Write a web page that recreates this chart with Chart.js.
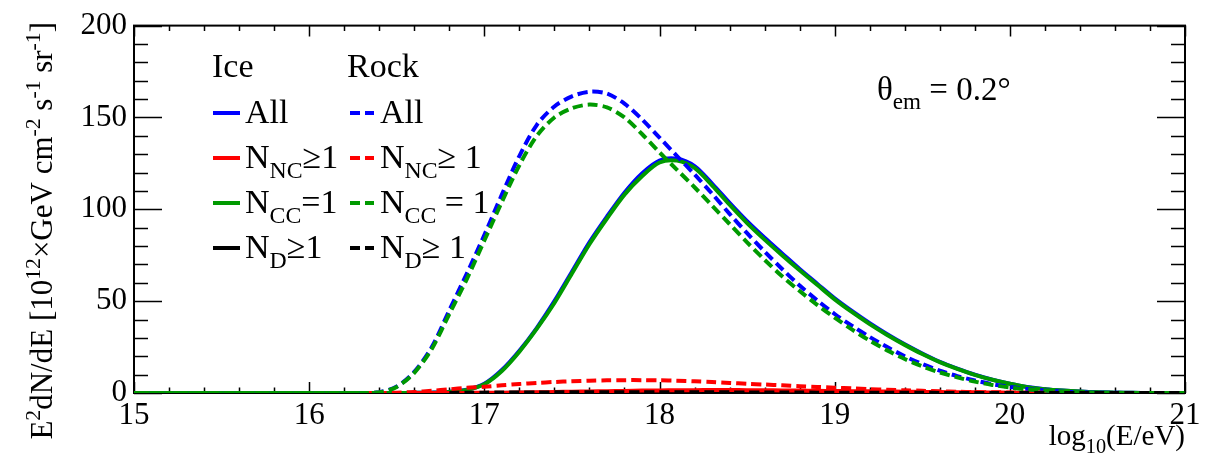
<!DOCTYPE html>
<html><head><meta charset="utf-8">
<script src="https://cdn.jsdelivr.net/npm/chart.js@4.4.1/dist/chart.umd.min.js"></script>
<style>html,body{margin:0;padding:0;background:#fff;overflow:hidden;font-family:"Liberation Serif","Times New Roman",Times,serif}</style>
</head><body>
<canvas id="c" width="1225" height="463"></canvas>
<script>
// ---- data ----
const logE = [15.0,15.1,15.2,15.3,15.4,15.5,15.6,15.7,15.8,15.9,
              16.0,16.1,16.2,16.3,16.4,16.5,16.6,16.7,16.8,16.9,
              17.0,17.1,17.2,17.3,17.4,17.5,17.6,17.7,17.8,17.9,
              18.0,18.1,18.2,18.3,18.4,18.5,18.6,18.7,18.8,18.9,
              19.0,19.1,19.2,19.3,19.4,19.5,19.6,19.7,19.8,19.9,
              20.0,20.1,20.2,20.3,20.4,20.5,20.6,20.7,20.8,20.9,21.0];

const iceAll = [0,0,0,0,0,0,0,0,0,0, 0,0,0,0,0,0,0.1,0.2,0.6,1.8,
  5,12.5,23,35.5,50,66,82,96,109,119.5,
  126.5,127.5,123.5,114,103.5,93.5,84.5,76,67.5,59.5,
  51.5,44.5,38,32,26.5,21.5,17,13.3,10,7.3,
  5.1,3.3,2.1,1.3,0.75,0.4,0.2,0.1,0,0,0];
const iceNC = [null,null,null,null,null,null,null,null,null,null, null,null,null,null,null,null,0,0,0,0.05,
  0.1,0.15,0.25,0.4,0.55,0.7,0.85,1.0,1.15,1.3,
  1.4,1.5,1.55,1.6,1.6,1.55,1.5,1.4,1.3,1.2,
  1.1,1.0,0.9,0.8,0.7,0.6,0.5,0.4,0.35,0.3,
  0.2,0.15,0.1,0.05,0,0,0,0,0,0,0];
const iceCC = [0,0,0,0,0,0,0,0,0,0, 0,0,0,0,0,0,0.1,0.2,0.6,1.7,
  4.8,12,22.5,35,49,65,81,95,108,118,
  125.5,126.5,122.5,113,102.5,92.5,83.5,75,66.8,58.9,
  51,44,37.5,31.6,26.2,21.2,16.8,13.1,9.9,7.2,
  5,3.2,2.1,1.3,0.75,0.4,0.2,0.1,0,0,0];
const iceD = [null,null,null,null,null,null,null,null,null,null, null,null,null,null,null,null,null,0,0,0,
  0,0.05,0.1,0.1,0.15,0.15,0.2,0.2,0.2,0.2,
  0.2,0.2,0.2,0.2,0.2,0.15,0.15,0.15,0.1,0.1,
  0.1,0.1,0.05,0.05,0.05,0.05,0,0,0,0,
  0,0,0,0,0,0,0,0,0,0,0];

const rockAll = [0,0,0,0,0,0,0,0,0,0, 0,0,0,0,0.4,3.5,11.5,25,45,65,
  86,108,129,146,156,161.5,164,163,157.5,149,
  139,129,119,108.5,97.5,87,77,67.5,58.5,50.5,
  43,36.5,30.5,25,20,15.8,12.2,9.2,6.8,4.8,
  3.3,2.2,1.4,0.8,0.45,0.2,0.1,0,0,0,0];
const rockNC = [null,null,null,null,null,null,null,null,null,null, null,null,null,0,0,0.2,0.5,1.2,2,2.8,
  3.4,4.2,4.9,5.5,6,6.4,6.7,6.9,7,7,
  6.9,6.7,6.4,6,5.5,5,4.6,4.2,3.7,3.3,
  2.9,2.5,2.1,1.8,1.5,1.2,0.9,0.7,0.5,0.4,
  0.3,0.2,0.1,0,0,0,0,0,0,0,0];
const rockCC = [0,0,0,0,0,0,0,0,0,0, 0,0,0,0,0.4,3.3,11,24,43,62,
  83,104,124,140,150,155,157,155.5,150,141,
  131,121.5,112,102,92,82,72.5,63.5,55.5,48,
  41,34.5,28.5,23.2,18.5,14.5,11.2,8.5,6.2,4.4,
  3,2,1.3,0.75,0.4,0.2,0.1,0,0,0,0];
const rockD = [null,null,null,null,null,null,null,null,null,null, null,null,null,null,null,null,null,null,0.05,0.1,
  0.2,0.25,0.3,0.3,0.35,0.35,0.4,0.4,0.4,0.4,
  0.4,0.4,0.4,0.35,0.35,0.3,0.3,0.25,0.25,0.2,
  0.2,0.15,0.15,0.1,0.1,0.1,0.05,0.05,0.05,0.05,
  0,0,0,0,0,0,0,0,0,0,0];

const yTickValues = [0, 50, 100, 150, 200];
const xTickValues = [15, 16, 17, 18, 19, 20, 21];
const legendHeaders = ['Ice', 'Rock'];
const iceLegend = [
  [['All']],
  [['N'], ['NC', 'sub'], ['≥1']],
  [['N'], ['CC', 'sub'], ['=1']],
  [['N'], ['D', 'sub'], ['≥1']]
];
const rockLegend = [
  [['All']],
  [['N'], ['NC', 'sub'], ['≥ 1']],
  [['N'], ['CC', 'sub'], [' = 1']],
  [['N'], ['D', 'sub'], ['≥ 1']]
];
const legendColors = ['#0000ff', '#ff0000', '#009a00', '#000000'];
const yTitle = [['E'], ['2', 'sup'], ['dN/dE [10'], ['12', 'sup'], ['×GeV cm'], ['-2', 'sup'], [' s'], ['-1', 'sup'], [' sr'], ['-1', 'sup'], [']']];
const xTitle = [['log'], ['10', 'sub'], ['(E/eV)']];
const annotation = [['θ'], ['em', 'sub'], [' = 0.2°']];

// ---- chart ----
const FONT = '"Liberation Serif", "Times New Roman", Times, serif';
const BLUE = '#0000ff', RED = '#ff0000', GREEN = '#009a00', BLACK = '#000000';

function ds(label, arr, color, dashed, order) {
  return {
    label,
    data: logE.map((x, i) => ({ x: x, y: arr[i] })),
    borderColor: color, backgroundColor: color,
    borderWidth: 4, borderDash: dashed ? [10, 5] : [],
    pointRadius: 0, fill: false, tension: 0.3,
    order, spanGaps: false
  };
}

function richWidth(ctx, parts, size) {
  let w = 0;
  for (const p of parts) {
    const s = p[1] ? size * 0.7 : size;
    ctx.font = s + 'px ' + FONT;
    w += ctx.measureText(p[0]).width;
  }
  return w;
}
function drawRich(ctx, parts, x, y, size, align) {
  const w = richWidth(ctx, parts, size);
  let cx = align === 'right' ? x - w : x;
  ctx.textAlign = 'left';
  ctx.textBaseline = 'alphabetic';
  for (const p of parts) {
    const s = p[1] ? size * 0.7 : size;
    ctx.font = s + 'px ' + FONT;
    let dy = 0;
    if (p[1] === 'sub') dy = size * 0.28;
    if (p[1] === 'sup') dy = -size * 0.38;
    ctx.fillText(p[0], cx, y + dy);
    cx += ctx.measureText(p[0]).width;
  }
}

const decor = {
  id: 'decor',
  beforeDatasetsDraw(chart) {
    const { ctx, chartArea: a, scales: { x, y } } = chart;
    ctx.save();
    ctx.strokeStyle = '#000';
    ctx.lineWidth = 1.5;
    ctx.beginPath();
    for (let k = 0; k <= 30; k++) {
      const v = 15 + k * 0.2;
      const px = Math.round(x.getPixelForValue(v)) + 0.5;
      const len = (k % 5 === 0) ? 11 : 5.5;
      ctx.moveTo(px, a.bottom); ctx.lineTo(px, a.bottom - len);
      ctx.moveTo(px, a.top); ctx.lineTo(px, a.top + len);
    }
    for (let k = 0; k <= 20; k++) {
      const v = k * 10;
      const py = Math.round(y.getPixelForValue(v)) + 0.5;
      const len = (k % 5 === 0) ? 28 : 14;
      ctx.moveTo(a.left, py); ctx.lineTo(a.left + len, py);
      ctx.moveTo(a.right, py); ctx.lineTo(a.right - len, py);
    }
    ctx.stroke();
    ctx.lineWidth = 2;
    ctx.strokeRect(a.left, a.top, a.right - a.left, a.bottom - a.top);
    ctx.restore();
  },
  afterDraw(chart) {
    const { ctx, chartArea: a } = chart;
    ctx.save();
    ctx.fillStyle = '#000';
    // y title
    ctx.save();
    ctx.translate(52, 22);
    ctx.rotate(-Math.PI / 2);
    drawRich(ctx, yTitle, 0, 0, 31, 'right');
    ctx.restore();
    // x title
    drawRich(ctx, xTitle, a.right, 445, 29, 'right');
    // annotation
    drawRich(ctx, annotation, 877, 100, 33, 'left');
    // legend headers
    drawRich(ctx, [[legendHeaders[0]]], 212, 77, 34, 'left');
    drawRich(ctx, [[legendHeaders[1]]], 347, 77, 34, 'left');
    const baselines = [123, 168, 213, 258];
    for (let r = 0; r < 4; r++) {
      const b = baselines[r];
      ctx.strokeStyle = legendColors[r];
      ctx.lineWidth = 4;
      ctx.setLineDash([]);
      ctx.beginPath(); ctx.moveTo(213, b - 10); ctx.lineTo(240, b - 10); ctx.stroke();
      ctx.setLineDash([10, 5]);
      ctx.beginPath(); ctx.moveTo(350, b - 10); ctx.lineTo(374, b - 10); ctx.stroke();
      ctx.setLineDash([]);
      ctx.fillStyle = '#000';
      drawRich(ctx, iceLegend[r], 245, b, 34, 'left');
      drawRich(ctx, rockLegend[r], 380, b, 34, 'left');
    }
    ctx.restore();
  }
};

function build() {
  new Chart(document.getElementById('c'), {
    type: 'line',
    data: {
      datasets: [
        ds('Rock N_D≥1', rockD, BLACK, true, 0),
        ds('Rock N_CC=1', rockCC, GREEN, true, 1),
        ds('Rock N_NC≥1', rockNC, RED, true, 2),
        ds('Rock All', rockAll, BLUE, true, 3),
        ds('Ice N_NC≥1', iceNC, RED, false, 4),
        ds('Ice N_CC=1', iceCC, GREEN, false, 5),
        ds('Ice All', iceAll, BLUE, false, 6),
        ds('Ice N_D≥1', iceD, BLACK, false, 7)
      ]
    },
    options: {
      responsive: false,
      animation: false,
      devicePixelRatio: 1,
      layout: { padding: { top: 23, right: 40, left: 0, bottom: 0 } },
      plugins: { legend: { display: false }, tooltip: { enabled: false } },
      scales: {
        x: {
          type: 'linear', min: 15, max: 21,
          afterFit: s => { s.height = 70; },
          afterBuildTicks: s => { s.ticks = xTickValues.map(v => ({ value: v })); },
          grid: { display: false, drawTicks: false },
          border: { display: false },
          ticks: { color: '#000', font: { family: FONT, size: 31 }, padding: 4, maxRotation: 0, autoSkip: false }
        },
        y: {
          type: 'linear', min: 0, max: 200,
          afterFit: s => { s.width = 134; },
          afterBuildTicks: s => { s.ticks = yTickValues.map(v => ({ value: v })); },
          grid: { display: false, drawTicks: false },
          border: { display: false },
          ticks: { color: '#000', font: { family: FONT, size: 31 }, padding: 7 }
        }
      }
    },
    plugins: [decor]
  });
}
if (document.fonts && document.fonts.load) {
  Promise.all([
    document.fonts.load('30px "Liberation Serif"'),
    document.fonts.load('20px "Liberation Serif"')
  ]).then(build, build);
} else { build(); }
</script>
</body></html>
